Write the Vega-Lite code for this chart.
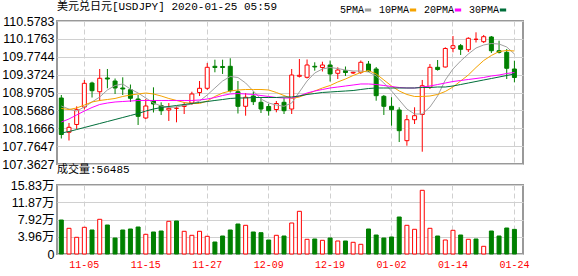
{
"$schema": "https://vega.github.io/schema/vega-lite/v6.json",
"background": "white",
"padding": {"left": 0, "top": 0, "right": 0, "bottom": 0},
"spacing": 21,
"bounds": "flush",
"datasets": {"k": [
{"d":"2019-10-31","o":108.847,"h":108.914,"l":107.936,"c":108.026,"v":78010,"5PMA":108.667,"10PMA":108.611,"20PMA":108.307,"30PMA":108.060},
{"d":"2019-11-01","o":108.076,"h":108.285,"l":107.891,"c":108.188,"v":58970,"5PMA":108.599,"10PMA":108.588,"20PMA":108.375,"30PMA":108.093},
{"d":"2019-11-04","o":108.251,"h":108.660,"l":108.150,"c":108.584,"v":38320,"5PMA":108.554,"10PMA":108.622,"20PMA":108.465,"30PMA":108.138},
{"d":"2019-11-05","o":108.644,"h":109.252,"l":108.588,"c":109.177,"v":61260,"5PMA":108.644,"10PMA":108.689,"20PMA":108.554,"30PMA":108.183},
{"d":"2019-11-06","o":109.184,"h":109.213,"l":108.858,"c":109.011,"v":55070,"5PMA":108.757,"10PMA":108.757,"20PMA":108.633,"30PMA":108.228},
{"d":"2019-11-07","o":108.988,"h":109.499,"l":108.779,"c":109.290,"v":79620,"5PMA":108.869,"10PMA":108.791,"20PMA":108.701,"30PMA":108.273},
{"d":"2019-11-08","o":109.297,"h":109.499,"l":109.065,"c":109.274,"v":66540,"5PMA":109.027,"10PMA":108.813,"20PMA":108.734,"30PMA":108.318},
{"d":"2019-11-11","o":109.229,"h":109.285,"l":108.937,"c":109.072,"v":36710,"5PMA":109.128,"10PMA":108.836,"20PMA":108.757,"30PMA":108.363},
{"d":"2019-11-12","o":109.072,"h":109.312,"l":108.914,"c":109.049,"v":55070,"5PMA":109.162,"10PMA":108.881,"20PMA":108.768,"30PMA":108.408},
{"d":"2019-11-13","o":109.033,"h":109.150,"l":108.757,"c":108.840,"v":57360,"5PMA":109.049,"10PMA":108.914,"20PMA":108.779,"30PMA":108.453},
{"d":"2019-11-14","o":108.824,"h":108.914,"l":108.240,"c":108.435,"v":61950,"5PMA":108.959,"10PMA":108.937,"20PMA":108.791,"30PMA":108.498},
{"d":"2019-11-15","o":108.397,"h":108.824,"l":108.375,"c":108.667,"v":45200,"5PMA":108.847,"10PMA":108.959,"20PMA":108.791,"30PMA":108.554},
{"d":"2019-11-18","o":108.791,"h":109.087,"l":108.521,"c":108.712,"v":50480,"5PMA":108.734,"10PMA":108.937,"20PMA":108.791,"30PMA":108.599},
{"d":"2019-11-19","o":108.678,"h":108.750,"l":108.465,"c":108.561,"v":52770,"5PMA":108.667,"10PMA":108.892,"20PMA":108.791,"30PMA":108.633},
{"d":"2019-11-20","o":108.577,"h":108.734,"l":108.330,"c":108.615,"v":75030,"5PMA":108.633,"10PMA":108.836,"20PMA":108.791,"30PMA":108.656},
{"d":"2019-11-21","o":108.615,"h":108.660,"l":108.300,"c":108.615,"v":75720,"5PMA":108.644,"10PMA":108.791,"20PMA":108.791,"30PMA":108.678},
{"d":"2019-11-22","o":108.656,"h":108.757,"l":108.487,"c":108.689,"v":52080,"5PMA":108.678,"10PMA":108.746,"20PMA":108.791,"30PMA":108.701},
{"d":"2019-11-25","o":108.734,"h":108.988,"l":108.689,"c":108.937,"v":42910,"5PMA":108.712,"10PMA":108.723,"20PMA":108.791,"30PMA":108.723},
{"d":"2019-11-26","o":108.971,"h":109.229,"l":108.892,"c":109.065,"v":52080,"5PMA":108.779,"10PMA":108.723,"20PMA":108.802,"30PMA":108.746},
{"d":"2019-11-27","o":109.065,"h":109.634,"l":109.027,"c":109.537,"v":40610,"5PMA":108.914,"10PMA":108.779,"20PMA":108.824,"30PMA":108.768},
{"d":"2019-11-28","o":109.560,"h":109.708,"l":109.425,"c":109.533,"v":27530,"5PMA":109.072,"10PMA":108.881,"20PMA":108.858,"30PMA":108.791},
{"d":"2019-11-29","o":109.555,"h":109.708,"l":109.387,"c":109.533,"v":41300,"5PMA":109.229,"10PMA":108.959,"20PMA":108.903,"30PMA":108.813},
{"d":"2019-12-02","o":109.560,"h":109.740,"l":108.971,"c":109.011,"v":55070,"5PMA":109.330,"10PMA":109.004,"20PMA":108.937,"30PMA":108.836},
{"d":"2019-12-03","o":108.988,"h":109.229,"l":108.498,"c":108.660,"v":68830,"5PMA":109.308,"10PMA":109.027,"20PMA":108.948,"30PMA":108.847},
{"d":"2019-12-04","o":108.660,"h":108.959,"l":108.449,"c":108.863,"v":65850,"5PMA":109.184,"10PMA":109.038,"20PMA":108.937,"30PMA":108.847},
{"d":"2019-12-05","o":108.892,"h":108.993,"l":108.689,"c":108.764,"v":50480,"5PMA":109.004,"10PMA":109.038,"20PMA":108.926,"30PMA":108.858},
{"d":"2019-12-06","o":108.750,"h":108.858,"l":108.510,"c":108.599,"v":48870,"5PMA":108.824,"10PMA":109.038,"20PMA":108.903,"30PMA":108.858},
{"d":"2019-12-09","o":108.656,"h":108.712,"l":108.449,"c":108.561,"v":32120,"5PMA":108.734,"10PMA":109.027,"20PMA":108.881,"30PMA":108.858},
{"d":"2019-12-10","o":108.588,"h":108.779,"l":108.525,"c":108.723,"v":42910,"5PMA":108.689,"10PMA":108.971,"20PMA":108.858,"30PMA":108.858},
{"d":"2019-12-11","o":108.750,"h":108.847,"l":108.487,"c":108.561,"v":41300,"5PMA":108.660,"10PMA":108.903,"20PMA":108.847,"30PMA":108.869},
{"d":"2019-12-12","o":108.599,"h":109.499,"l":108.487,"c":109.364,"v":71130,"5PMA":108.734,"10PMA":108.836,"20PMA":108.847,"30PMA":108.869},
{"d":"2019-12-13","o":109.335,"h":109.724,"l":109.308,"c":109.357,"v":97970,"5PMA":108.982,"10PMA":108.869,"20PMA":108.892,"30PMA":108.892},
{"d":"2019-12-16","o":109.312,"h":109.713,"l":109.285,"c":109.589,"v":33730,"5PMA":109.229,"10PMA":108.937,"20PMA":108.959,"30PMA":108.926},
{"d":"2019-12-17","o":109.560,"h":109.650,"l":109.461,"c":109.544,"v":34420,"5PMA":109.409,"10PMA":109.004,"20PMA":109.004,"30PMA":108.948},
{"d":"2019-12-18","o":109.533,"h":109.663,"l":109.443,"c":109.589,"v":31430,"5PMA":109.499,"10PMA":109.072,"20PMA":109.038,"30PMA":108.971},
{"d":"2019-12-19","o":109.589,"h":109.690,"l":109.218,"c":109.387,"v":36710,"5PMA":109.533,"10PMA":109.128,"20PMA":109.072,"30PMA":108.982},
{"d":"2019-12-20","o":109.402,"h":109.537,"l":109.274,"c":109.476,"v":29830,"5PMA":109.510,"10PMA":109.207,"20PMA":109.094,"30PMA":108.993},
{"d":"2019-12-23","o":109.461,"h":109.555,"l":109.342,"c":109.420,"v":29830,"5PMA":109.476,"10PMA":109.274,"20PMA":109.117,"30PMA":109.004},
{"d":"2019-12-24","o":109.409,"h":109.438,"l":109.387,"c":109.425,"v":26850,"5PMA":109.454,"10PMA":109.353,"20PMA":109.139,"30PMA":109.015},
{"d":"2019-12-26","o":109.425,"h":109.690,"l":109.387,"c":109.650,"v":22260,"5PMA":109.454,"10PMA":109.420,"20PMA":109.162,"30PMA":109.038},
{"d":"2019-12-27","o":109.611,"h":109.679,"l":109.431,"c":109.454,"v":57360,"5PMA":109.431,"10PMA":109.465,"20PMA":109.162,"30PMA":109.060},
{"d":"2019-12-30","o":109.499,"h":109.544,"l":108.786,"c":108.899,"v":43590,"5PMA":109.342,"10PMA":109.387,"20PMA":109.150,"30PMA":109.072},
{"d":"2019-12-31","o":108.885,"h":108.914,"l":108.465,"c":108.660,"v":36710,"5PMA":109.184,"10PMA":109.252,"20PMA":109.128,"30PMA":109.072},
{"d":"2020-01-02","o":108.660,"h":108.863,"l":108.224,"c":108.584,"v":39010,"5PMA":109.004,"10PMA":109.117,"20PMA":109.105,"30PMA":109.072},
{"d":"2020-01-03","o":108.577,"h":108.638,"l":107.857,"c":108.112,"v":84890,"5PMA":108.802,"10PMA":109.004,"20PMA":109.083,"30PMA":109.072},
{"d":"2020-01-06","o":107.887,"h":108.465,"l":107.774,"c":108.359,"v":65850,"5PMA":108.599,"10PMA":108.926,"20PMA":109.072,"30PMA":109.072},
{"d":"2020-01-07","o":108.359,"h":108.638,"l":108.262,"c":108.449,"v":56670,"5PMA":108.487,"10PMA":108.881,"20PMA":109.072,"30PMA":109.072},
{"d":"2020-01-08","o":108.476,"h":109.252,"l":107.639,"c":109.123,"v":146160,"5PMA":108.487,"10PMA":108.881,"20PMA":109.094,"30PMA":109.083},
{"d":"2020-01-09","o":109.087,"h":109.611,"l":109.049,"c":109.537,"v":58970,"5PMA":108.644,"10PMA":108.892,"20PMA":109.117,"30PMA":109.083},
{"d":"2020-01-10","o":109.537,"h":109.701,"l":109.461,"c":109.488,"v":41300,"5PMA":108.892,"10PMA":108.926,"20PMA":109.150,"30PMA":109.094},
{"d":"2020-01-13","o":109.544,"h":109.987,"l":109.533,"c":109.960,"v":32120,"5PMA":109.252,"10PMA":108.993,"20PMA":109.184,"30PMA":109.094},
{"d":"2020-01-14","o":109.964,"h":110.241,"l":109.874,"c":110.023,"v":54380,"5PMA":109.499,"10PMA":109.094,"20PMA":109.218,"30PMA":109.117},
{"d":"2020-01-15","o":110.023,"h":110.061,"l":109.814,"c":109.942,"v":43590,"5PMA":109.679,"10PMA":109.229,"20PMA":109.240,"30PMA":109.150},
{"d":"2020-01-16","o":109.933,"h":110.212,"l":109.881,"c":110.189,"v":33730,"5PMA":109.836,"10PMA":109.364,"20PMA":109.263,"30PMA":109.184},
{"d":"2020-01-17","o":110.167,"h":110.324,"l":110.095,"c":110.167,"v":34420,"5PMA":109.971,"10PMA":109.533,"20PMA":109.285,"30PMA":109.218},
{"d":"2020-01-20","o":110.113,"h":110.264,"l":110.084,"c":110.225,"v":17670,"5PMA":110.039,"10PMA":109.690,"20PMA":109.308,"30PMA":109.252},
{"d":"2020-01-21","o":110.219,"h":110.241,"l":109.859,"c":109.910,"v":52770,"5PMA":110.072,"10PMA":109.803,"20PMA":109.342,"30PMA":109.285},
{"d":"2020-01-22","o":109.910,"h":110.135,"l":109.848,"c":109.874,"v":41300,"5PMA":110.061,"10PMA":109.892,"20PMA":109.364,"30PMA":109.319},
{"d":"2020-01-23","o":109.874,"h":109.949,"l":109.274,"c":109.515,"v":59650,"5PMA":109.994,"10PMA":109.915,"20PMA":109.398,"30PMA":109.353},
{"d":"2020-01-24","o":109.499,"h":109.686,"l":109.200,"c":109.308,"v":56485,"5PMA":109.836,"10PMA":109.904,"20PMA":109.420,"30PMA":109.387}
]},
"data": {"name": "k"},
"vconcat": [
{
 "width": 466, "height": 143,
 "title": {"text": "美元兑日元[USDJPY] 2020-01-25 05:59", "offset": 3},
 "encoding": {
  "x": {"field": "d", "type": "ordinal",
   "scale": {"type": "band", "paddingInner": 0.48, "paddingOuter": 0.58, "align": 0.26},
   "axis": {"values": ["2019-11-05","2019-11-15","2019-11-27","2019-12-09","2019-12-19","2020-01-02","2020-01-14","2020-01-24"], "labels": false, "title": null, "grid": true, "gridDash": [5,3]}}
 },
 "layer": [
  {"mark": {"type": "rule", "strokeWidth": 1},
   "encoding": {
    "y": {"field": "l", "type": "quantitative", "scale": {"domain": [107.3627, 110.5783], "nice": false, "zero": false},
      "axis": {"values": [107.3627,107.7647,108.1666,108.5686,108.9705,109.3724,109.7744,110.1763,110.5783], "format": ".4f", "title": null, "labelPadding": 3, "labelOverlap": false, "labelBound": false, "labelFlush": false}},
    "y2": {"field": "h"},
    "stroke": {"condition": {"test": "datum.c >= datum.o", "value": "#ff0000"}, "value": "#008000"}
   }},
  {"mark": {"type": "bar", "strokeWidth": 1},
   "encoding": {
    "y": {"field": "o", "type": "quantitative", "scale": {"domain": [107.3627, 110.5783], "nice": false, "zero": false},
      "axis": {"values": [107.3627,107.7647,108.1666,108.5686,108.9705,109.3724,109.7744,110.1763,110.5783], "format": ".4f", "title": null, "labelPadding": 3, "labelOverlap": false, "labelBound": false, "labelFlush": false}},
    "y2": {"field": "c"},
    "fill": {"condition": {"test": "datum.c >= datum.o", "value": "#ffffff"}, "value": "#008000"},
    "stroke": {"condition": {"test": "datum.c >= datum.o", "value": "#ff0000"}, "value": "#008000"}
   }},
  {"transform": [{"fold": ["5PMA","10PMA","20PMA","30PMA"], "as": ["k","val"]}],
   "mark": {"type": "line", "strokeWidth": 1},
   "encoding": {
    "y": {"field": "val", "type": "quantitative", "scale": {"domain": [107.3627, 110.5783], "nice": false, "zero": false},
      "axis": {"values": [107.3627,107.7647,108.1666,108.5686,108.9705,109.3724,109.7744,110.1763,110.5783], "format": ".4f", "title": null, "labelPadding": 3, "labelOverlap": false, "labelBound": false, "labelFlush": false}},
    "color": {"field": "k", "type": "nominal",
      "scale": {"domain": ["5PMA","10PMA","20PMA","30PMA"], "range": ["#a0a0a0","#f5a300","#ff00ff","#006e3a"]},
      "legend": {"orient": "none", "legendX": 306, "legendY": -16, "direction": "horizontal", "title": null, "gridAlign": "none",
        "symbolType": "stroke", "symbolStrokeWidth": 3, "symbolSize": 40, "labelAlign": "right", "labelOffset": -9,
        "labelFont": "Liberation Mono", "labelFontSize": 10, "labelColor": "#000", "columnPadding": 0, "padding": 0}}
   }}
 ]
},
{
 "width": 466, "height": 69,
 "title": {"text": "成交量:56485", "offset": 4},
 "mark": {"type": "bar", "strokeWidth": 1},
 "encoding": {
  "x": {"field": "d", "type": "ordinal",
   "scale": {"type": "band", "paddingInner": 0.48, "paddingOuter": 0.58, "align": 0.26},
   "axis": {"values": ["2019-11-05","2019-11-15","2019-11-27","2019-12-09","2019-12-19","2020-01-02","2020-01-14","2020-01-24"],
     "labelExpr": "substring(datum.value, 5)", "title": null, "grid": true, "gridDash": [5,3], "labelAngle": 0,
     "labelColor": "#ff0000", "labelFont": "Liberation Mono", "labelFontSize": 10, "labelPadding": 5, "labelFlush": false, "labelOverlap": false}},
  "y": {"field": "v", "type": "quantitative", "scale": {"domain": [0, 158320], "nice": false},
   "axis": {"values": [0, 39580, 79160, 118740, 158320], "labelExpr": "datum.value == 0 ? '0' : format(datum.value / 10000, '.2f') + '万'", "title": null, "labelPadding": 3, "labelOverlap": false}},
  "fill": {"condition": {"test": "datum.c > datum.o", "value": "#ffffff"}, "value": "#008000"},
  "stroke": {"condition": {"test": "datum.c > datum.o", "value": "#ff0000"}, "value": "#008000"}
 }
}
],
"config": {
 "view": {"stroke": "#999999", "strokeWidth": 2},
 "axis": {"gridColor": "#d0d0d0", "gridWidth": 1, "ticks": false, "domain": false, "labelOverlap": false, "labelFont": "Liberation Sans, Noto Sans CJK SC", "labelFontSize": 12.5, "labelColor": "#000000"},
 "title": {"anchor": "start", "frame": "group", "fontWeight": "normal", "font": "Liberation Mono, Noto Sans CJK SC", "fontSize": 11, "color": "#000000"}
}
}
